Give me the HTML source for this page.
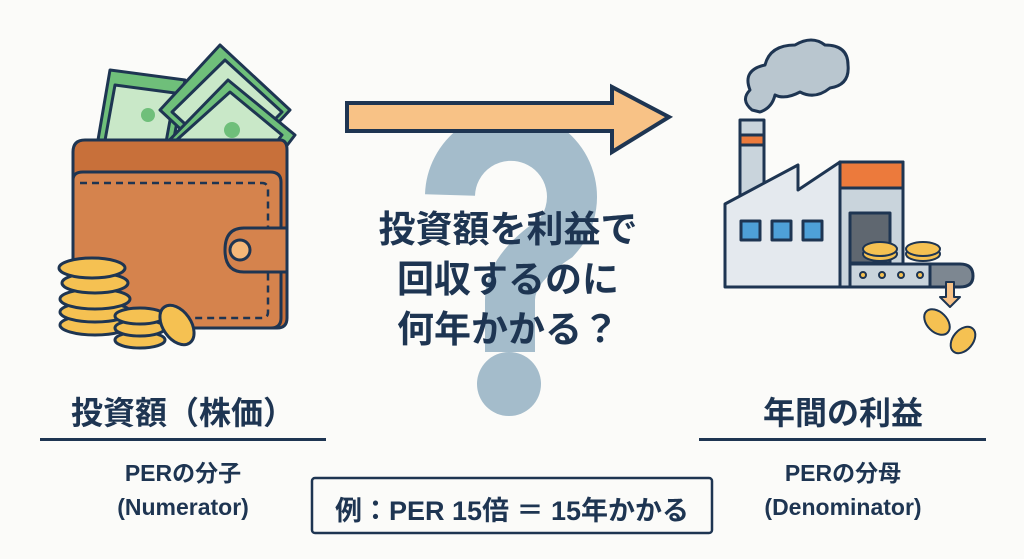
<!DOCTYPE html>
<html><head><meta charset="utf-8"><style>
html,body{margin:0;padding:0;background:#fbfbf9;}
body{width:1024px;height:559px;overflow:hidden;position:relative;font-family:"Liberation Sans","Noto Sans CJK JP",sans-serif;color:#1e3552;}
.t{position:absolute;text-align:center;font-weight:bold;white-space:nowrap;}
</style></head><body>
<svg width="1024" height="559" style="position:absolute;left:0;top:0">
<!-- question mark -->
<path d="M450,195 A61,61 0 1 1 556,238 Q510,268 510,300 L510,352" fill="none" stroke="#a4bccb" stroke-width="50"/>
<circle cx="509" cy="384" r="32" fill="#a4bccb"/>
<!-- arrow -->
<path d="M347,103 L612,103 L612,87 L669,117 L612,152 L612,131 L347,131 Z" fill="#f8c286" stroke="#1e3552" stroke-width="4" stroke-linejoin="miter"/>
<g stroke="#1e3552" stroke-width="3" stroke-linejoin="round">
<!-- bills -->
<polygon points="110,70 185,80 165,185 92,175" fill="#6fbf7a"/>
<polygon points="115,85 175,93 160,175 100,168" fill="#c9e8c8"/>
<circle cx="148" cy="115" r="7" fill="#6fbf7a" stroke="none"/>
<polygon points="220,45 290,110 230,175 160,110" fill="#6fbf7a"/>
<polygon points="225,60 282,112 230,165 172,112" fill="#c9e8c8"/>
<polygon points="228,80 295,135 245,200 150,160" fill="#6fbf7a"/>
<polygon points="230,92 282,135 240,188 160,155" fill="#c9e8c8"/>
<circle cx="232" cy="130" r="8" fill="#6fbf7a" stroke="none"/>
<circle cx="200" cy="175" r="22" fill="#6fbf7a" stroke="none"/>
<circle cx="125" cy="160" r="18" fill="#f5c152"/>
<!-- wallet -->
<path d="M85,140 L280,140 Q287,140 287,150 L287,318 Q287,328 277,328 L85,328 Q73,328 73,316 L73,152 Q73,140 85,140Z" fill="#c8703a"/>
<path d="M73,180 Q73,172 83,172 L270,172 Q281,172 281,182 L281,318 Q281,328 271,328 L83,328 Q73,328 73,318Z" fill="#d5834d"/>
<path d="M80,183 L262,183 Q268,183 268,190 L268,312 Q268,318 262,318 L80,318" fill="none" stroke-dasharray="7,5" stroke-width="2.5"/>
<path d="M287,228 L244,228 Q225,228 225,250 Q225,272 244,272 L287,272Z" fill="#d5834d"/>
<circle cx="240" cy="250" r="10" fill="#f4b779"/>
<!-- coin stacks -->
<g fill="#f5c152">
<ellipse cx="95" cy="325" rx="35" ry="10"/><ellipse cx="95" cy="312" rx="35" ry="10"/><ellipse cx="95" cy="299" rx="35" ry="10"/>
<ellipse cx="95" cy="283" rx="33" ry="10"/><ellipse cx="92" cy="268" rx="33" ry="10"/>
<ellipse cx="140" cy="340" rx="25" ry="8"/><ellipse cx="140" cy="328" rx="25" ry="8"/><ellipse cx="140" cy="316" rx="25" ry="8"/>
<ellipse cx="177" cy="325" rx="14" ry="22" transform="rotate(-35 177 325)"/>
</g>
<!-- smoke -->
<path d="M752,110 Q740,100 750,90 Q742,70 765,65 Q770,45 795,45 Q812,35 825,45 Q848,45 848,65 Q850,85 830,88 Q815,100 800,92 Q785,100 775,95 Q772,108 760,112Z" fill="#b9c6cf"/>
<!-- chimney -->
<rect x="740" y="120" width="24" height="75" fill="#c9d4dc"/>
<rect x="740" y="135" width="24" height="10" fill="#ec7a3c"/>
<!-- building -->
<polygon points="725,204 798,165 798,190 840,162 840,287 725,287" fill="#e4e9ee"/>
<rect x="840" y="162" width="63" height="125" fill="#c9d4dc"/>
<rect x="840" y="162" width="63" height="26" fill="#ec7a3c"/>
<rect x="850" y="213" width="40" height="50" fill="#5f6770"/>
<rect x="741" y="221" width="19" height="19" fill="#4ea0d8"/>
<rect x="772" y="221" width="19" height="19" fill="#4ea0d8"/>
<rect x="803" y="221" width="19" height="19" fill="#4ea0d8"/>
<path d="M850,264 L960,264 Q973,264 973,276 Q973,287 960,287 L850,287Z" fill="#7d8791"/>
<rect x="850" y="264" width="80" height="23" fill="#c9d4dc"/>
<g fill="#f5c152" stroke-width="2">
<circle cx="863" cy="275" r="3"/><circle cx="882" cy="275" r="3"/><circle cx="901" cy="275" r="3"/><circle cx="920" cy="275" r="3"/>
<ellipse cx="880" cy="254" rx="17" ry="7"/><ellipse cx="880" cy="249" rx="17" ry="7"/>
<ellipse cx="923" cy="254" rx="17" ry="7"/><ellipse cx="923" cy="249" rx="17" ry="7"/>
<ellipse cx="937" cy="322" rx="10" ry="15" transform="rotate(-45 937 322)"/>
<ellipse cx="963" cy="340" rx="10" ry="15" transform="rotate(40 963 340)"/>
</g>
<path d="M946,282 L946,297 L940,297 L950,307 L960,297 L954,297 L954,282Z" fill="#f8c286" stroke-width="2"/>
</g>
<!-- rules -->
<rect x="40" y="438" width="286" height="3" fill="#1e3552"/>
<rect x="699" y="438" width="287" height="3" fill="#1e3552"/>
<rect x="312" y="478" width="400" height="55" rx="3" fill="none" stroke="#1e3552" stroke-width="2.5"/>
</svg>
<div class="t" style="left:330px;top:205px;width:356px;font-size:37px;line-height:50px;">投資額を利益で<br>回収するのに<br>何年かかる？</div>
<div class="t" style="left:20px;top:388px;width:326px;font-size:32px;">投資額（株価）</div>
<div class="t" style="left:20px;top:456px;width:326px;font-size:23px;line-height:34px;">PERの分子<br>(Numerator)</div>
<div class="t" style="left:680px;top:388px;width:326px;font-size:32px;">年間の利益</div>
<div class="t" style="left:680px;top:456px;width:326px;font-size:23px;line-height:34px;">PERの分母<br>(Denominator)</div>
<div class="t" style="left:312px;top:489px;width:400px;font-size:27px;">例：PER 15倍 ＝ 15年かかる</div>
</body></html>
